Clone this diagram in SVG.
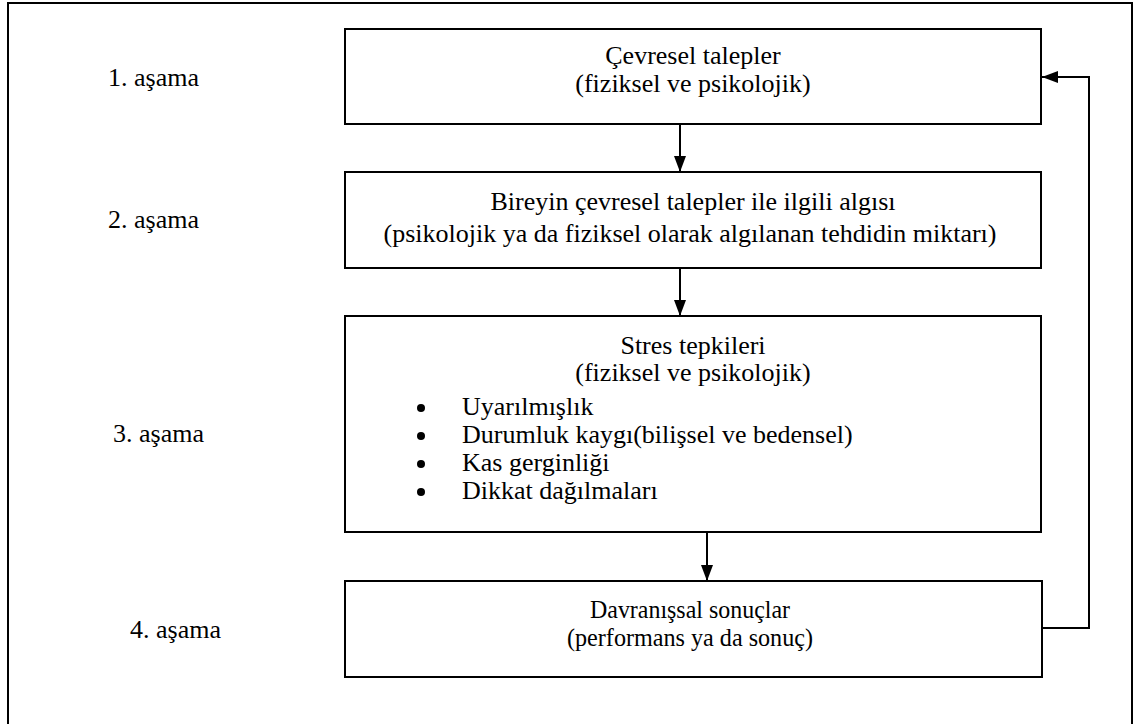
<svg xmlns="http://www.w3.org/2000/svg" width="1139" height="724" viewBox="0 0 1139 724" font-family="'Liberation Serif', 'DejaVu Serif', serif">
<style>
text{font-family:'Liberation Serif','DejaVu Serif',serif;font-size:26px;fill:#000}
.c{text-anchor:middle}
.box{fill:#fff;stroke:#000;stroke-width:2}
.ln{fill:none;stroke:#000;stroke-width:2}
</style>
<defs>
<marker id="ah" viewBox="0 0 16 12" refX="16" refY="6" markerWidth="16" markerHeight="12" markerUnits="userSpaceOnUse" orient="auto">
<path d="M0,0 L16,6 L0,12 z" fill="#000"/>
</marker>
</defs>
<rect x="0" y="0" width="1139" height="724" fill="#fff"/>
<rect x="8" y="3" width="1124" height="740" fill="none" stroke="#000" stroke-width="2"/>
<g id="labels">
<text x="108" y="86">1. aşama</text>
<text x="108" y="228">2. aşama</text>
<text x="113" y="442">3. aşama</text>
<text x="130" y="638">4. aşama</text>
</g>
<g id="connectors">
<line class="ln" x1="680" y1="124" x2="680" y2="172" marker-end="url(#ah)"/>
<line class="ln" x1="680" y1="268" x2="680" y2="316" marker-end="url(#ah)"/>
<line class="ln" x1="707" y1="532" x2="707" y2="581" marker-end="url(#ah)"/>
<polyline class="ln" points="1042,628 1089,628 1089,77 1042,77" marker-end="url(#ah)"/>
</g>
<g id="node1">
<rect class="box" x="345" y="29" width="696" height="95"/>
<text class="c" x="693" y="64">Çevresel talepler</text>
<text class="c" x="693" y="92">(fiziksel ve psikolojik)</text>
</g>
<g id="node2">
<rect class="box" x="345" y="172" width="696" height="96"/>
<text class="c" x="693" y="210">Bireyin çevresel talepler ile ilgili algısı</text>
<text class="c" x="690" y="242">(psikolojik ya da fiziksel olarak algılanan tehdidin miktarı)</text>
</g>
<g id="node3">
<rect class="box" x="345" y="316" width="696" height="216"/>
<text class="c" x="693" y="354">Stres tepkileri</text>
<text class="c" x="693" y="381">(fiziksel ve psikolojik)</text>
<circle cx="421" cy="408" r="4"/>
<text x="462" y="415">Uyarılmışlık</text>
<circle cx="421" cy="436" r="4"/>
<text x="462" y="443">Durumluk kaygı(bilişsel ve bedensel)</text>
<circle cx="421" cy="464" r="4"/>
<text x="462" y="471">Kas gerginliği</text>
<circle cx="421" cy="492" r="4"/>
<text x="462" y="499">Dikkat dağılmaları</text>
</g>
<g id="node4">
<rect class="box" x="345" y="581" width="697" height="96"/>
<text class="c" x="690" y="618" textLength="200" lengthAdjust="spacingAndGlyphs">Davranışsal sonuçlar</text>
<text class="c" x="690" y="646" textLength="246" lengthAdjust="spacingAndGlyphs">(performans ya da sonuç)</text>
</g>
</svg>
